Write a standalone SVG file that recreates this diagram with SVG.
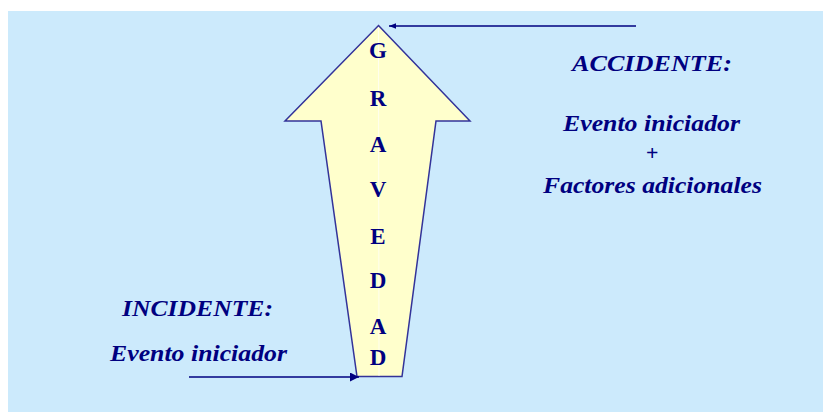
<svg xmlns="http://www.w3.org/2000/svg" width="823" height="412" viewBox="0 0 823 412">
<defs>
<style>
text{font-family:'Liberation Serif','Times New Roman',serif}
.lbl{font-weight:bold;font-style:italic;fill:#000080}
.let{font-weight:bold;font-size:23px;fill:#000080;text-anchor:middle}
.conn{stroke:#000080;stroke-width:1.5;fill:none}
</style>
<marker id="ah" viewBox="0 0 10 10" refX="10" refY="5" markerWidth="7" markerHeight="7" markerUnits="userSpaceOnUse" orient="auto">
<path d="M0,1 L10,5 L0,9 Z" fill="#000080"/>
</marker>
<marker id="ah2" viewBox="0 0 10 10" refX="10" refY="5" markerWidth="9" markerHeight="9" markerUnits="userSpaceOnUse" orient="auto">
<path d="M0,0 L10,5 L0,10 Z" fill="#000080"/>
</marker>
</defs>
<rect x="0" y="0" width="823" height="412" fill="#ffffff"/>
<rect x="8" y="11" width="815" height="401" fill="#cceafc"/>
<g id="arrow">
<path d="M378.5,25.5 L470,121 L436,121 L402,376.5 L357,376.5 L321,121 L285,121 Z" fill="#ffffcc" stroke="#333399" stroke-width="1.5" stroke-linejoin="miter"/>
<line x1="378.5" y1="27" x2="379" y2="376" stroke="#ffffff" stroke-width="1" opacity="0.7"/>
<text class="let" x="378" y="58">G</text>
<text class="let" x="378" y="106">R</text>
<text class="let" x="378" y="152">A</text>
<text class="let" x="378" y="197">V</text>
<text class="let" x="378" y="244">E</text>
<text class="let" x="378" y="288">D</text>
<text class="let" x="378" y="334">A</text>
<text class="let" x="378" y="365">D</text>
</g>
<g id="accidente">
<text class="lbl" x="572" y="71" font-size="23" textLength="160" lengthAdjust="spacingAndGlyphs">ACCIDENTE:</text>
<text class="lbl" x="563" y="131" font-size="23" textLength="177" lengthAdjust="spacingAndGlyphs">Evento iniciador</text>
<text class="lbl" x="652" y="160" font-size="22" text-anchor="middle" font-style="normal" font-weight="normal">+</text>
<text class="lbl" x="543" y="193" font-size="23" textLength="219" lengthAdjust="spacingAndGlyphs">Factores adicionales</text>
</g>
<g id="incidente">
<text class="lbl" x="122" y="316" font-size="23" textLength="151" lengthAdjust="spacingAndGlyphs">INCIDENTE:</text>
<text class="lbl" x="110" y="361" font-size="23" textLength="177" lengthAdjust="spacingAndGlyphs">Evento iniciador</text>
</g>
<g id="connectors">
<line class="conn" x1="636" y1="26" x2="389" y2="26" marker-end="url(#ah)"/>
<line class="conn" x1="189" y1="377" x2="359" y2="377" marker-end="url(#ah2)"/>
</g>
</svg>
